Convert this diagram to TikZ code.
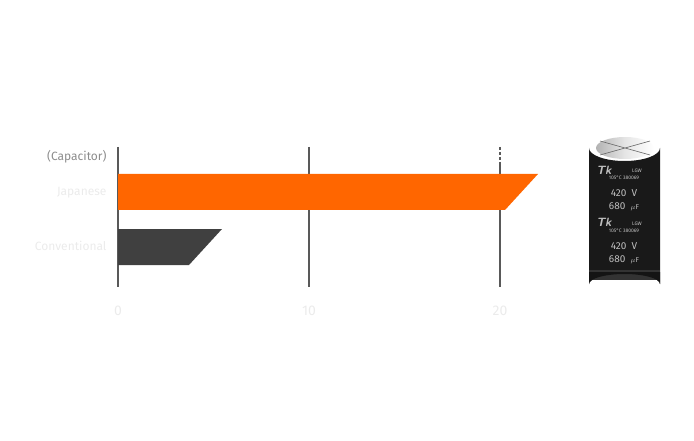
\documentclass[tikz,border=0pt]{standalone}
\usepackage{fontspec}
\setmainfont{Fira Sans}
\begin{document}
\begin{tikzpicture}[x=1pt,y=-1pt,
 grid/.style={draw=black!65,line width=1.3pt},
 lab/.style={anchor=east,font=\fontsize{12}{14}\selectfont},
 tick/.style={font=\fontsize{14}{16}\selectfont,text=black!8}]
\useasboundingbox (0,0) rectangle (694,441);
\draw[grid] (118,147) -- (118,287);
\draw[grid] (309,147) -- (309,287);
\draw[grid,dash pattern=on 3pt off 2pt] (500,147) -- (500,162);
\draw[grid] (500,162) -- (500,287);
\fill[orange!85!red, fill={rgb,255:red,255;green,102;blue,0}] (118,174) -- (538,174) -- (505,210) -- (118,210) -- cycle;
\fill[black!75] (118,229) -- (222,229) -- (189,265) -- (118,265) -- cycle;
\node[lab,text=black!45] (c) at (110,157) {(Capacitor)};
\node[lab,text=black!8] (j) at (110,193) {Japanese};
\node[lab,text=black!8] (v) at (110,246) {Conventional};
\node[tick] (t0) at (118,311) {0};
\node[tick] (t1) at (309,311) {10};
\node[tick] (t2) at (500,311) {20};
% capacitor
\fill[black!90] (589,148) -- (589,284) arc[start angle=180,end angle=360,x radius=35.5,y radius=10] -- (660,148) arc[start angle=0,end angle=180,x radius=35.5,y radius=13] -- cycle;
\fill[black!80] (589,270) rectangle (660,280);
\fill[black!92] (589,272) -- (589,284) arc[start angle=180,end angle=360,x radius=35.5,y radius=10] -- (660,272) -- cycle;
\shade[left color=black!30,right color=white,middle color=black!10] (625,148) ellipse[x radius=29,y radius=11];
\draw[black!60,line width=0.6pt] (600,155) -- (650,141) (600,141) -- (650,155);
\begin{scope}[text=black!25,font=\sffamily]
\node (tk1) at (604,170) {\bfseries\itshape\large Tk};
\node[font=\tiny] (s1) at (637,171) {LGW};
\node[font=\tiny] (s2) at (624,178) {105°C 380069};
\node[font=\normalsize] (n1) at (624,193) {420\ \ V};
\node[font=\normalsize] (n2) at (624,207) {680\ \ \scriptsize$\mu$F};
\node (tk2) at (604,222) {\bfseries\itshape\large Tk};
\node[font=\tiny] (s3) at (637,224) {LGW};
\node[font=\tiny] (s4) at (624,231) {105°C 380069};
\node[font=\normalsize] (n3) at (624,246) {420\ \ V};
\node[font=\normalsize] (n4) at (624,260) {680\ \ \scriptsize$\mu$F};
\end{scope}
\end{tikzpicture}
\end{document}
